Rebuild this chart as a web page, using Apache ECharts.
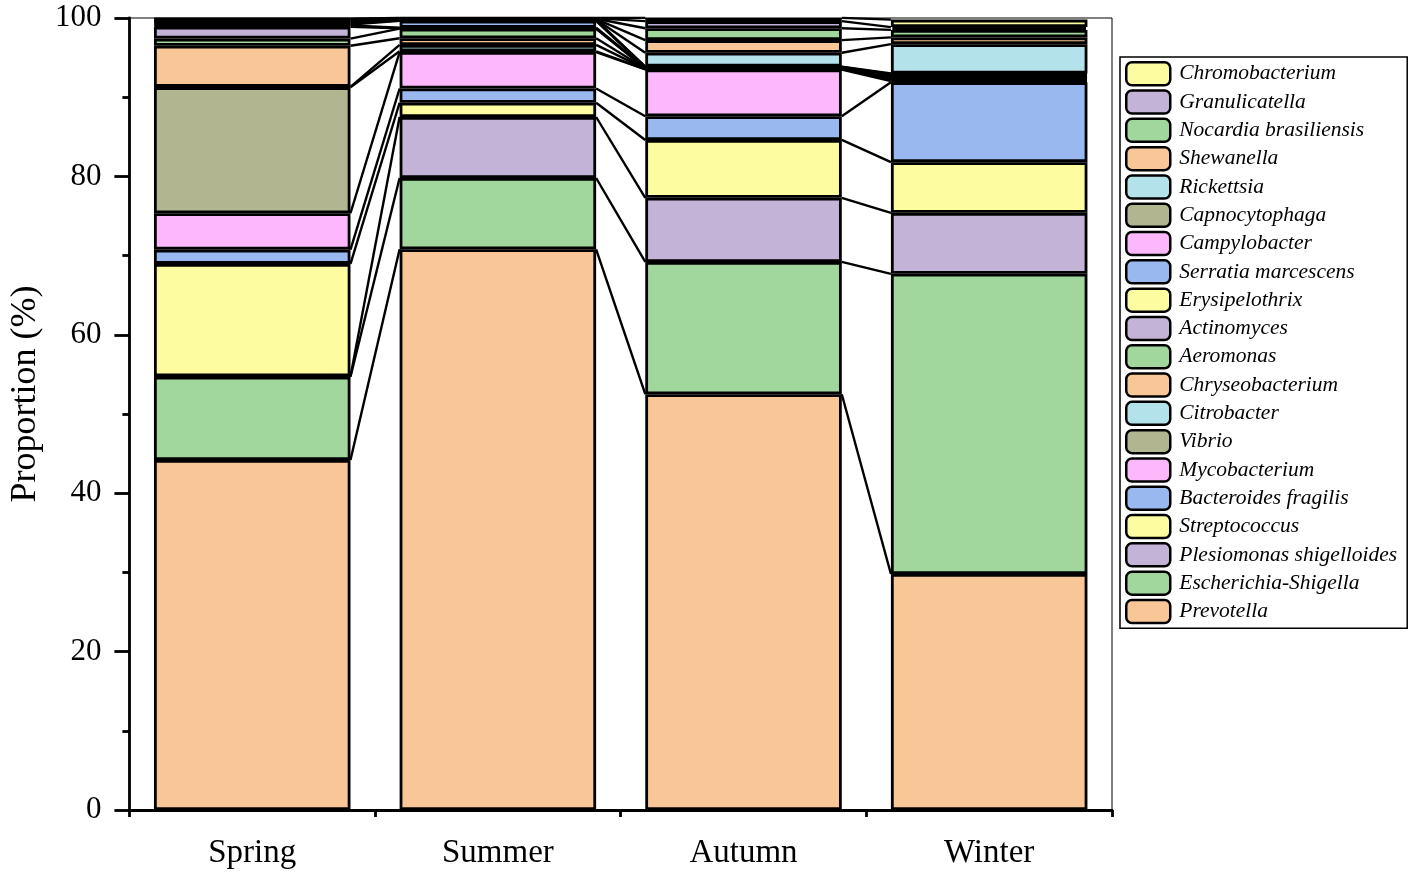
<!DOCTYPE html>
<html><head><meta charset="utf-8">
<script src="https://cdn.jsdelivr.net/npm/echarts@6/dist/echarts.min.js"></script>
<style>html,body{margin:0;padding:0;background:#fff}#chart{width:1417px;height:876px}</style>
</head><body><div id="chart"></div>
<script>
const seasons = ['Spring', 'Summer', 'Autumn', 'Winter'];
const yTicks = [0, 20, 40, 60, 80, 100];

// genera, bottom of stack to top
const genera = ['Prevotella', 'Escherichia-Shigella', 'Plesiomonas shigelloides', 'Streptococcus',
  'Bacteroides fragilis', 'Mycobacterium', 'Vibrio', 'Citrobacter', 'Chryseobacterium', 'Aeromonas',
  'Actinomyces', 'Erysipelothrix', 'Serratia marcescens', 'Campylobacter', 'Capnocytophaga',
  'Rickettsia', 'Shewanella', 'Nocardia brasiliensis', 'Granulicatella', 'Chromobacterium'];

// proportions (%) for Spring, Summer, Autumn, Winter
const prevotella       = [44.2, 70.8, 52.5, 29.8];
const escherichia      = [10.5, 9.0, 16.7, 37.9];
const plesiomonas      = [0.05, 7.7, 8.1, 7.7];
const streptococcus    = [14.2, 1.8, 7.3, 6.4];
const bacteroides      = [1.8, 1.8, 3.0, 10.1];
const mycobacterium    = [4.6, 4.6, 5.9, 0.15];
const vibrio           = [15.9, 0.1, 0.04, 0.1];
const citrobacter      = [0.05, 0.8, 0.04, 0.12];
const chryseobacterium = [5.2, 0.85, 0.04, 0.1];
const aeromonas        = [0.9, 1.2, 0.04, 0.1];
const actinomyces      = [1.5, 0.06, 0.04, 0.1];
const erysipelothrix   = [0.15, 0.06, 0.04, 0.12];
const serratia         = [0.12, 0.88, 0.04, 0.1];
const campylobacter    = [0.1, 0.05, 0.04, 0.1];
const capnocytophaga   = [0.14, 0.05, 0.04, 0.11];
const rickettsia       = [0.1, 0.05, 1.75, 3.7];
const shewanella       = [0.12, 0.05, 1.6, 0.85];
const nocardia         = [0.1, 0.05, 1.5, 0.95];
const granulicatella   = [0.12, 0.05, 0.9, 0.35];
const chromobacterium  = [0.05, 0.05, 0.4, 0.95];

const values = [prevotella, escherichia, plesiomonas, streptococcus, bacteroides, mycobacterium,
  vibrio, citrobacter, chryseobacterium, aeromonas, actinomyces, erysipelothrix, serratia,
  campylobacter, capnocytophaga, rickettsia, shewanella, nocardia, granulicatella, chromobacterium];

const palette = ['#F9C797', '#A1D69C', '#C2B3D7', '#FDFCA1', '#9AB8F0', '#FDB8FB', '#B1B690', '#B4E2EA'];
const FONT = "'Liberation Serif', 'Times New Roman', serif";
const BAR_FRAC = 0.8;

// cumulative tops for connecting lines
const cum = [];
let running = seasons.map(() => 0);
values.forEach(v => { running = running.map((r, i) => r + v[i]); cum.push(running.slice()); });
const linkData = [];
cum.forEach(c => { for (let i = 0; i < seasons.length - 1; i++) linkData.push([i, c[i], c[i + 1]]); });

const series = genera.map((name, k) => ({
  name, type: 'bar', stack: 'total', barWidth: (BAR_FRAC * 100) + '%',
  data: values[k],
  itemStyle: { color: palette[k % palette.length], borderColor: '#000', borderWidth: 2.8 },
  emphasis: { disabled: true }
}));
series.push({
  type: 'custom', silent: true, z: 5, xAxisIndex: 0, yAxisIndex: 0,
  encode: { x: 0, y: [1, 2] },
  data: linkData,
  renderItem: (params, api) => {
    const i = api.value(0), a = api.value(1), b = api.value(2);
    const p1 = api.coord([i, a]), p2 = api.coord([i + 1, b]);
    const half = api.size([1, 0])[0] * BAR_FRAC / 2;
    return { type: 'line', shape: { x1: p1[0] + half, y1: p1[1], x2: p2[0] - half, y2: p2[1] },
      style: { stroke: '#000', lineWidth: 2.4 } };
  }
});

const chart = echarts.init(document.getElementById('chart'));
chart.setOption({
  animation: false,
  backgroundColor: '#fff',
  grid: { left: 128, right: 305, top: 18, bottom: 66, show: true, borderColor: '#000', borderWidth: 1, backgroundColor: 'transparent' },
  legend: {
    data: genera.slice().reverse(), orient: 'vertical', left: 1120, top: 57,
    itemWidth: 44, itemHeight: 23, itemGap: 2.8, padding: [4, 10, 4, 5],
    borderColor: '#000', borderWidth: 1.5, selectedMode: false,
    itemStyle: { borderColor: '#000', borderWidth: 2.5 },
    textStyle: { fontFamily: FONT, fontStyle: 'italic', fontSize: 21.5, lineHeight: 23, color: '#000', padding: [0, 0, 0, 4] }
  },
  xAxis: [{
    type: 'category', data: seasons, position: 'bottom',
    axisLine: { lineStyle: { color: '#000', width: 2.8 } },
    axisTick: { alignWithLabel: true, length: 13, lineStyle: { color: '#000', width: 2.8 } },
    axisLabel: { fontFamily: FONT, fontSize: 33, color: '#000', margin: 27 },
    splitLine: { show: false }
  }, {
    type: 'value', min: 0, max: seasons.length, interval: 1, position: 'bottom',
    axisLine: { show: false },
    axisTick: { show: true, length: 7, lineStyle: { color: '#000', width: 2.8 } },
    axisLabel: { show: false }, splitLine: { show: false }
  }],
  yAxis: {
    type: 'value', min: yTicks[0], max: yTicks[yTicks.length - 1], interval: 20,
    name: 'Proportion (%)', nameLocation: 'middle', nameGap: 84,
    nameTextStyle: { fontFamily: FONT, fontSize: 36, color: '#000', padding: [0, 0, 0, 40] },
    axisLine: { show: true, lineStyle: { color: '#000', width: 2.8 } },
    axisTick: { show: true, length: 15, lineStyle: { color: '#000', width: 2.8 } },
    minorTick: { show: true, splitNumber: 2, length: 7, lineStyle: { color: '#000', width: 2.8 } },
    axisLabel: { fontFamily: FONT, fontSize: 31, color: '#000', margin: 28 },
    splitLine: { show: false }
  },
  series
});
</script></body></html>
